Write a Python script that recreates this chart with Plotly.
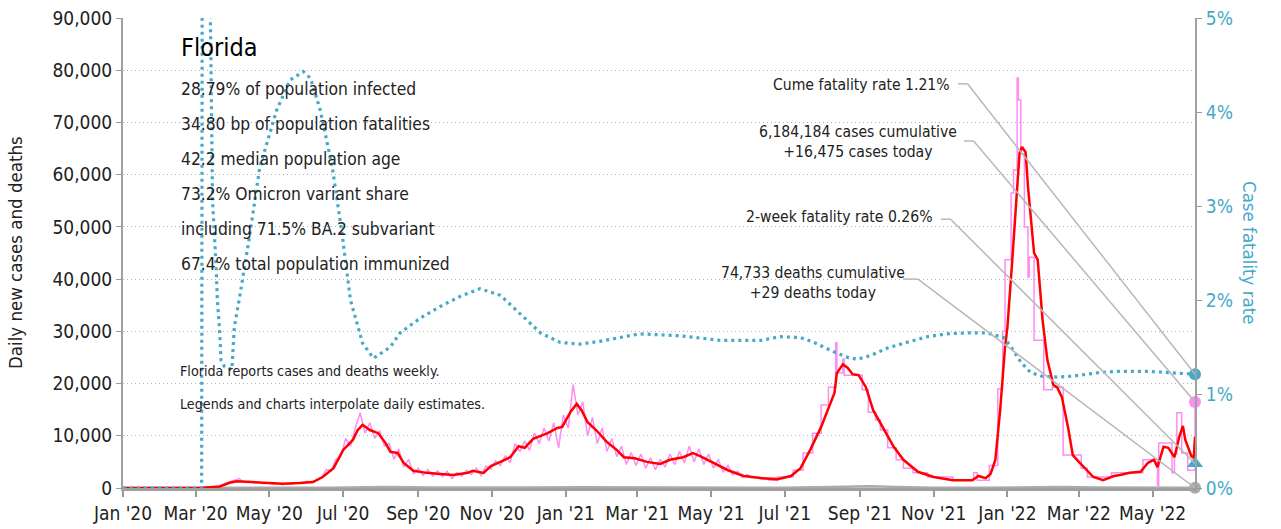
import plotly.graph_objects as go
import pandas as pd

FONT = "DejaVu Sans Condensed, Liberation Sans Narrow, sans-serif"
TEAL = "#45a9c8"
PINK = "#ff8cf5"
RED = "#ff0000"
GRAY = "#aaaaaa"
TXT = "#222222"

# ---------------- data ----------------
# 7-day average of daily new cases (red)
avg_dates = ["2020-01-01", "2020-03-04", "2020-03-21", "2020-03-29", "2020-04-04", "2020-04-15", "2020-04-29",
             "2020-05-12", "2020-05-26", "2020-06-06", "2020-06-14", "2020-06-23", "2020-07-01", "2020-07-09",
             "2020-07-13", "2020-07-17", "2020-07-23", "2020-07-30", "2020-08-05", "2020-08-09", "2020-08-15",
             "2020-08-20", "2020-08-28", "2020-09-08", "2020-09-19", "2020-09-30", "2020-10-12", "2020-10-16",
             "2020-10-25", "2020-10-31", "2020-11-08", "2020-11-16", "2020-11-23", "2020-11-28", "2020-12-05",
             "2020-12-17", "2020-12-25", "2020-12-29", "2021-01-05", "2021-01-10", "2021-01-14", "2021-01-19",
             "2021-01-26", "2021-02-04", "2021-02-12", "2021-02-18", "2021-02-27", "2021-03-09", "2021-03-20",
             "2021-03-28", "2021-04-08", "2021-04-16", "2021-04-22", "2021-05-03", "2021-05-15", "2021-05-28",
             "2021-06-11", "2021-06-25", "2021-07-06", "2021-07-14", "2021-07-22", "2021-07-31", "2021-08-08",
             "2021-08-11", "2021-08-13", "2021-08-18", "2021-08-22", "2021-08-26", "2021-08-31", "2021-09-06",
             "2021-09-12", "2021-09-21", "2021-09-29", "2021-10-07", "2021-10-19", "2021-11-01", "2021-11-17",
             "2021-12-03", "2021-12-08", "2021-12-14", "2021-12-18", "2021-12-22", "2021-12-26", "2021-12-30",
             "2022-01-01", "2022-01-05", "2022-01-09", "2022-01-11", "2022-01-13", "2022-01-16", "2022-01-18",
             "2022-01-21", "2022-01-23", "2022-01-26", "2022-01-30", "2022-02-03", "2022-02-08", "2022-02-11",
             "2022-02-15", "2022-02-20", "2022-02-24", "2022-03-01", "2022-03-06", "2022-03-13", "2022-03-21",
             "2022-03-30", "2022-04-04", "2022-04-12", "2022-04-21", "2022-04-27", "2022-05-02", "2022-05-05",
             "2022-05-10", "2022-05-14", "2022-05-19", "2022-05-23", "2022-05-26", "2022-05-28", "2022-06-02",
             "2022-06-04", "2022-06-05"]
avg_cases = [0, 0, 300, 1000, 1300, 1150, 950,
             800, 950, 1150, 2100, 3800, 7300, 9200,
             11100, 12100, 11100, 10500, 8600, 6900, 6700,
             4800, 3300, 2900, 2700, 2500, 2900, 3300,
             2900, 4200, 5000, 5900, 8000, 7700, 9400,
             10500, 11500, 11700, 14600, 16100, 14900, 12600,
             11100, 8800, 7300, 5900, 5700, 5000, 4600,
             5400, 5900, 6700, 6100, 4800, 3400, 2300,
             1900, 1700, 2300, 3800, 7300, 11700, 16500,
             18200, 22000, 23700, 23000, 21800, 21600, 19300,
             14900, 11100, 7900, 5400, 3100, 2100, 1500,
             1500, 2300, 1900, 2700, 5400, 15000, 27000,
             30900, 43700, 56500, 64200, 65300, 64300, 57600,
             50000, 45000, 43700, 32200, 24500, 19700, 19300,
             17400, 11700, 6300, 5000, 3800, 2100, 1500,
             2300, 2500, 2900, 3100, 4800, 5400, 4000,
             7900, 7700, 5900, 9800, 11900, 9200, 6100,
             5800, 9800]

# daily reported cases, 2020 to early June 2021 (every 4 days, pink)
daily_start = "2020-03-01"
daily_cases = [0, 0, 20, 60, 150, 400, 800, 1100, 1500, 1800,
               1100, 1300, 1000, 1200, 800, 1000, 700, 900, 650, 900,
               750, 1100, 850, 1300, 1000, 1600, 2000, 3500, 3300, 5500,
               6000, 9500, 8000, 11500, 14400, 10500, 12500, 9500, 11000, 8000,
               8500, 5500, 7500, 4000, 5500, 2700, 3800, 2400, 3500, 2300,
               3300, 2200, 3200, 1800, 2900, 2300, 3400, 2600, 3800, 2400,
               4200, 3600, 5200, 4300, 6200, 4800, 8500, 7000, 9000, 7200,
               10500, 8500, 11500, 9000, 12500, 7700, 14000, 11500, 19800, 14000,
               16500, 10000, 13500, 8500, 11500, 7000, 9500, 6000, 8000, 4500,
               6800, 4300, 6500, 3800, 5800, 3500, 5500, 4000, 6500, 4500,
               7000, 4800, 8000, 5000, 7500, 4500, 6500, 3800, 5500, 3000,
               4300, 2500, 3200, 2000, 2600, 1900]

# weekly reported cases spread over the days (pink steps), June 2021 onwards
weekly_dates = ["2021-06-04", "2021-06-11", "2021-06-18", "2021-06-25", "2021-07-08", "2021-07-16", "2021-07-24",
                "2021-07-31", "2021-08-06", "2021-08-12", "2021-08-13", "2021-08-18", "2021-08-19", "2021-09-03",
                "2021-09-08", "2021-09-14", "2021-09-18", "2021-09-24", "2021-10-01", "2021-10-07", "2021-10-15",
                "2021-10-27", "2021-11-17", "2021-12-04", "2021-12-07", "2021-12-17", "2021-12-24", "2021-12-28",
                "2021-12-30", "2022-01-04", "2022-01-06", "2022-01-09", "2022-01-10", "2022-01-12", "2022-01-15",
                "2022-01-18", "2022-01-19", "2022-01-23", "2022-01-31", "2022-02-07", "2022-02-16", "2022-03-03",
                "2022-03-08", "2022-03-28", "2022-04-23", "2022-05-05", "2022-05-06", "2022-05-17", "2022-05-19",
                "2022-05-21", "2022-05-25", "2022-05-30", "2022-06-05"]
weekly_cases = [2000, 1700, 1500, 2100, 3400, 6700, 10500,
                15900, 19300, 27800, 22000, 24700, 21600, 18800,
                14500, 13000, 11100, 7700, 5400, 3800, 2900,
                2100, 1600, 2900, 1500, 4300, 19000, 30000,
                43700, 56500, 60900, 78500, 74300, 64000, 50000,
                40400, 44200, 28300, 18800, 19300, 6300, 3800,
                2100, 2900, 5400, 500, 8600, 2900, 6500,
                14400, 6700, 3400, 16475]

# daily deaths (gray)
death_dates = ["2020-01-01", "2020-03-10", "2020-04-10", "2020-05-15", "2020-06-20", "2020-07-20", "2020-08-10",
               "2020-09-10", "2020-10-15", "2020-12-01", "2021-01-15", "2021-03-01", "2021-05-01", "2021-07-01",
               "2021-08-20", "2021-09-10", "2021-10-01", "2021-11-01", "2021-12-15", "2022-01-25", "2022-02-15",
               "2022-03-15", "2022-04-15", "2022-06-05"]
deaths = [0, 0, 50, 40, 40, 150, 200,
          110, 70, 80, 150, 90, 60, 40,
          250, 350, 200, 60, 30, 150, 180,
          80, 30, 29]

# case fatality rate, % (teal dotted, right axis)
cfr_dates = ["2020-01-01", "2020-03-06", "2020-03-07", "2020-03-13", "2020-03-14", "2020-03-15", "2020-03-18",
             "2020-03-19", "2020-03-21", "2020-03-22", "2020-03-25", "2020-03-31", "2020-04-02", "2020-04-06",
             "2020-04-15", "2020-04-23", "2020-05-07", "2020-05-18", "2020-05-29", "2020-06-04", "2020-06-12",
             "2020-06-22", "2020-06-30", "2020-07-07", "2020-07-17", "2020-07-26", "2020-08-09", "2020-08-17",
             "2020-09-03", "2020-09-19", "2020-10-06", "2020-10-22", "2020-11-08", "2020-11-24", "2020-12-11",
             "2020-12-27", "2021-01-12", "2021-01-29", "2021-03-03", "2021-04-05", "2021-05-09", "2021-06-11",
             "2021-06-27", "2021-07-14", "2021-07-25", "2021-08-02", "2021-08-12", "2021-08-22", "2021-08-30",
             "2021-09-10", "2021-09-24", "2021-10-10", "2021-10-27", "2021-11-12", "2021-11-29", "2021-12-15",
             "2021-12-29", "2022-01-04", "2022-01-12", "2022-01-20", "2022-01-29", "2022-02-11", "2022-02-24",
             "2022-03-19", "2022-04-02", "2022-04-29", "2022-05-27", "2022-06-05"]
cfr = [0, 0, 12.0, 4.98, 4.13, 3.06, 2.35,
       2.0, 1.65, 1.36, 1.29, 1.26, 1.71, 2.0,
       2.71, 3.41, 4.02, 4.34, 4.43, 4.36, 4.02,
       3.41, 2.71, 2.0, 1.54, 1.38, 1.50, 1.65,
       1.81, 1.93, 2.04, 2.12, 2.05, 1.86, 1.65,
       1.55, 1.53, 1.56, 1.64, 1.62, 1.57, 1.57,
       1.61, 1.60, 1.55, 1.50, 1.44, 1.39, 1.37,
       1.41, 1.49, 1.55, 1.61, 1.64, 1.65, 1.65,
       1.60, 1.50, 1.34, 1.23, 1.19, 1.18, 1.19,
       1.23, 1.24, 1.24, 1.22, 1.21]

last_date = "2022-06-05"
cases_today = 16475
deaths_today = 29
cume_cfr = 1.21
two_week_cfr = 0.26

stats_lines = ["28.79% of population infected",
               "34.80 bp of population fatalities",
               "42.2 median population age",
               "73.2% Omicron variant share",
               "including 71.5% BA.2 subvariant",
               "67.4% total population immunized"]
note_lines = ["Florida reports cases and deaths weekly.",
              "Legends and charts interpolate daily estimates."]

y_ticks = [0, 10000, 20000, 30000, 40000, 50000, 60000, 70000, 80000, 90000]
y2_ticks = [0, 1, 2, 3, 4, 5]
y2_labels = ["0%", "1%", "2%", "3%", "4%", "5%"]

# ---------------- figure ----------------
daily_dates = pd.date_range(daily_start, periods=len(daily_cases), freq="4D")

fig = go.Figure()
fig.add_trace(go.Scatter(x=daily_dates, y=daily_cases, mode="lines",
                         line=dict(color=PINK, width=1.5), hoverinfo="skip"))
fig.add_trace(go.Scatter(x=weekly_dates, y=weekly_cases, mode="lines", line_shape="hv",
                         line=dict(color=PINK, width=1.5), hoverinfo="skip"))
fig.add_trace(go.Scatter(x=death_dates, y=deaths, mode="lines",
                         line=dict(color=GRAY, width=2.5), hoverinfo="skip"))
fig.add_trace(go.Scatter(x=avg_dates, y=avg_cases, mode="lines",
                         line=dict(color=RED, width=2.5), hoverinfo="skip"))
fig.add_trace(go.Scatter(x=cfr_dates, y=cfr, mode="lines", yaxis="y2",
                         line=dict(color=TEAL, width=3.2, dash="3px,4px"), hoverinfo="skip"))

# leader lines from the right-hand labels to the end markers
leaders = [
    ("2021-11-21", "2021-11-29", 4.30, cume_cfr, "y2"),
    ("2021-11-26", "2021-12-04", 66450, cases_today, "y"),
    ("2021-11-07", "2021-11-15", 2.86, two_week_cfr, "y2"),
    ("2021-10-07", "2021-10-19", 40000, deaths_today, "y"),
]
for x0, x1, ys, ye, yref in leaders:
    fig.add_shape(type="line", xref="x", yref=yref, x0=x0, x1=x1, y0=ys, y1=ys,
                  line=dict(color="#b8b8b8", width=1.5), layer="above")
    fig.add_shape(type="line", xref="x", yref=yref, x0=x1, x1=last_date, y0=ys, y1=ye,
                  line=dict(color="#b8b8b8", width=1.5), layer="above")

# end markers
fig.add_trace(go.Scatter(x=[last_date], y=[deaths_today], mode="markers", cliponaxis=False,
                         marker=dict(color=GRAY, size=12), hoverinfo="skip"))
fig.add_trace(go.Scatter(x=[last_date], y=[cases_today], mode="markers", cliponaxis=False,
                         marker=dict(color=PINK, size=12), hoverinfo="skip"))
fig.add_trace(go.Scatter(x=[last_date], y=[two_week_cfr], mode="markers", yaxis="y2", cliponaxis=False,
                         marker=dict(color=TEAL, size=14, symbol="triangle-up"), hoverinfo="skip"))
fig.add_trace(go.Scatter(x=[last_date], y=[cume_cfr], mode="markers", yaxis="y2", cliponaxis=False,
                         marker=dict(color=TEAL, size=12), hoverinfo="skip"))

fig.update_layout(
    width=1281, height=529, autosize=False,
    margin=dict(l=123, r=86, t=18, b=41, autoexpand=False),
    plot_bgcolor="white", paper_bgcolor="white",
    showlegend=False,
    font=dict(family=FONT, size=19, color=TXT),
    xaxis=dict(type="date", range=["2020-01-01", last_date], tick0="2020-01-01", dtick="M2",
               tickformat="%b '%y", ticks="outside", ticklen=6, tickcolor="#999", tickwidth=1.5,
               showline=True, linecolor="#a0a0a0", linewidth=2.5, showgrid=False, zeroline=False,
               tickfont=dict(size=19, color=TXT), automargin=False),
    yaxis=dict(range=[0, 90000], tickvals=y_ticks, tickformat=",", showgrid=True, gridcolor="#b0b0b0",
               griddash="1px,3px", gridwidth=1, showline=True, linecolor="#a0a0a0", linewidth=2,
               ticks="outside", ticklen=5, tickcolor="#999", zeroline=False,
               tickfont=dict(size=19, color=TXT), automargin=False),
    yaxis2=dict(range=[0, 5], tickvals=y2_ticks, ticktext=y2_labels, overlaying="y", side="right",
                showgrid=False, showline=True, linecolor="#a0a0a0", linewidth=2,
                ticks="outside", ticklen=5, tickcolor="#999", zeroline=False,
                tickfont=dict(size=19, color=TEAL), automargin=False),
)

def px_x(px):
    return (px - 123) / 1072.0

def px_y(py):
    return (488 - py) / 470.0

ann = []
ann.append(dict(text="Daily new cases and deaths", x=px_x(15), y=0.5, textangle=-90,
                font=dict(size=18.5, color=TXT)))
ann.append(dict(text="Case fatality rate", x=px_x(1250), y=0.5, textangle=90,
                font=dict(size=18.5, color=TEAL)))
ann.append(dict(text="Florida", x=px_x(179), y=px_y(48), xanchor="left", font=dict(size=25, color="#000")))
for i, s in enumerate(stats_lines):
    ann.append(dict(text=s, x=px_x(179), y=px_y(89 + 35 * i), xanchor="left", font=dict(size=17.3, color=TXT)))
for i, s in enumerate(note_lines):
    ann.append(dict(text=s, x=px_x(178), y=px_y(371 + 33 * i), xanchor="left", font=dict(size=14.2, color=TXT)))
ann.append(dict(text="Cume fatality rate 1.21%", x=px_x(952), y=px_y(85), xanchor="right",
                font=dict(size=15.6, color=TXT)))
ann.append(dict(text="6,184,184 cases cumulative<br>+16,475 cases today", x=px_x(959), y=px_y(142),
                xanchor="right", align="center", font=dict(size=15.6, color=TXT)))
ann.append(dict(text="2-week fatality rate 0.26%", x=px_x(935), y=px_y(217), xanchor="right",
                font=dict(size=15.6, color=TXT)))
ann.append(dict(text="74,733 deaths cumulative<br>+29 deaths today", x=px_x(907), y=px_y(283),
                xanchor="right", align="center", font=dict(size=15.6, color=TXT)))
for a in ann:
    a.update(xref="paper", yref="paper", showarrow=False, yanchor="middle")
    a.setdefault("xanchor", "center")
fig.update_layout(annotations=ann)

fig.write_html("out.html", config={"responsive": False, "displayModeBar": False},
               post_script="document.body.style.margin='0px';document.body.style.overflow='hidden';")
